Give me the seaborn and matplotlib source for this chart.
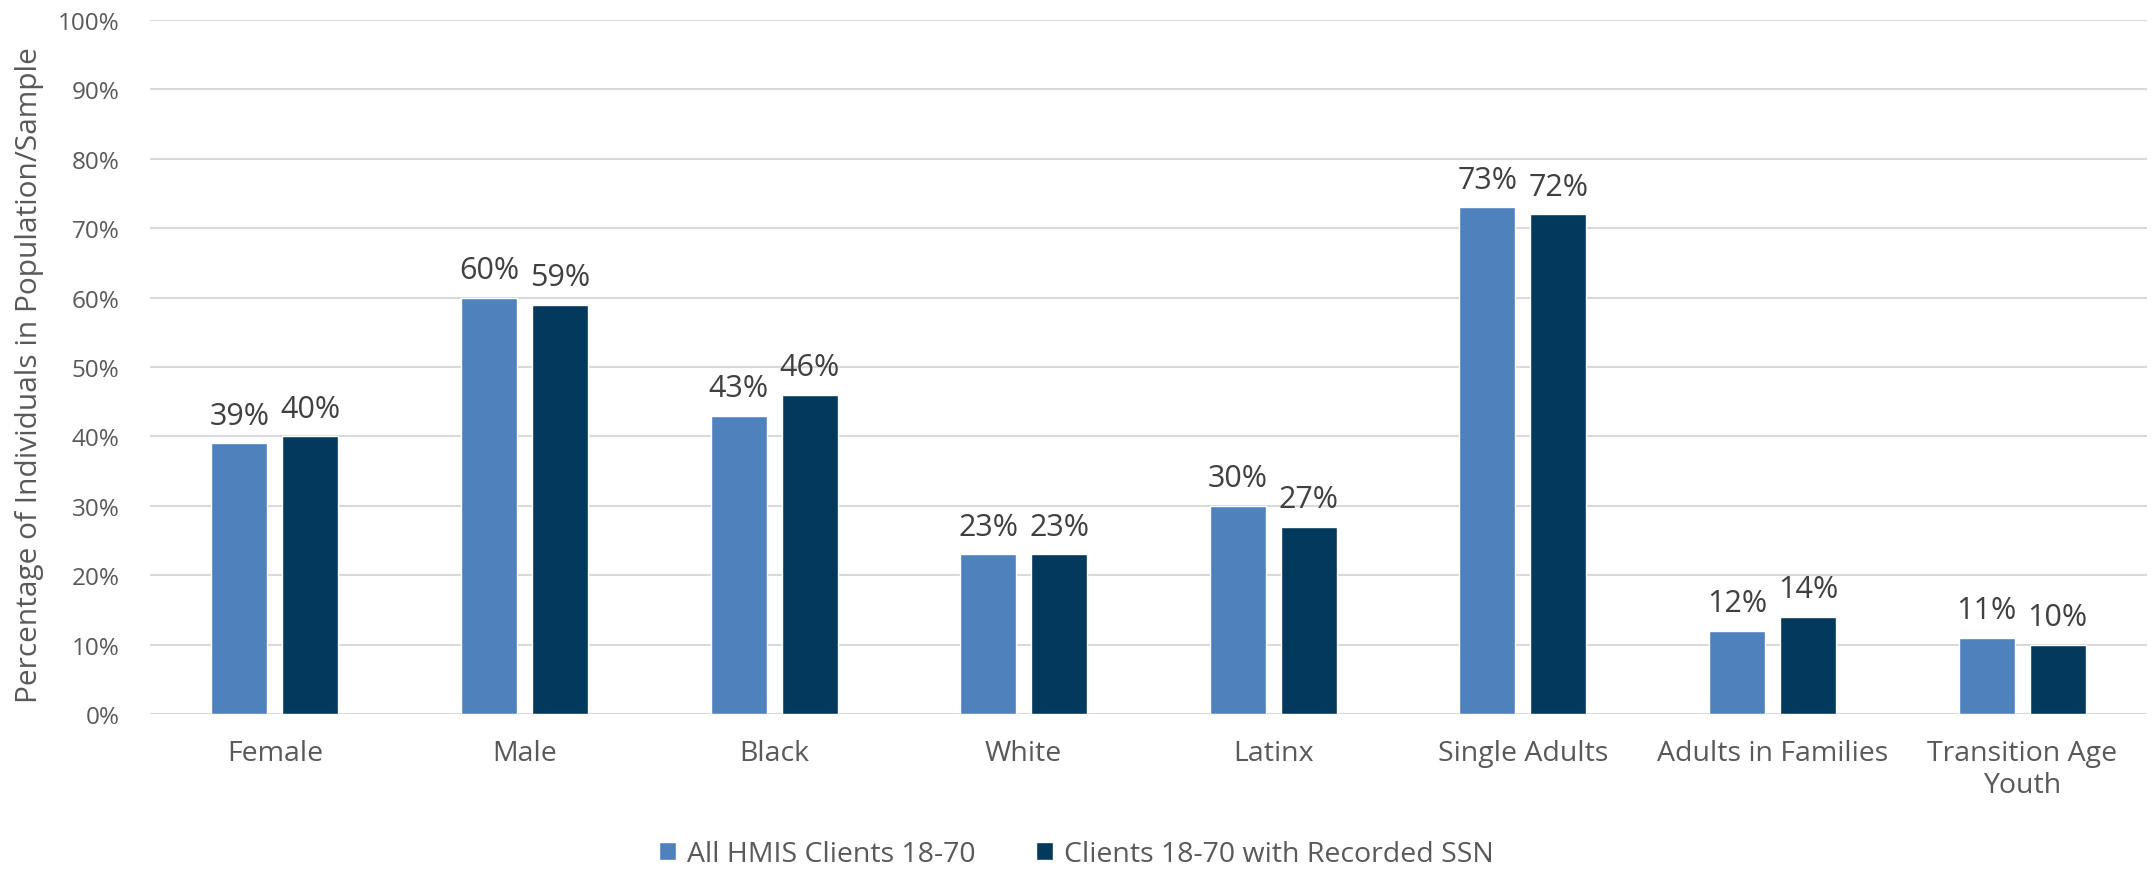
import pandas as pd
import matplotlib.pyplot as plt
import seaborn as sns
from matplotlib.patches import Patch

# values (percent)
categories = ['Female', 'Male', 'Black', 'White', 'Latinx', 'Single Adults',
              'Adults in Families', 'Transition Age\nYouth']
all_hmis = [39, 60, 43, 23, 30, 73, 12, 11]
with_ssn = [40, 59, 46, 23, 27, 72, 14, 10]
series_names = ['All HMIS Clients 18-70', 'Clients 18-70 with Recorded SSN']
colors = ['#4F81BD', '#03395C']
yticks = list(range(0, 101, 10))

df = pd.DataFrame({
    'category': categories * 2,
    'value': all_hmis + with_ssn,
    'series': [series_names[0]] * len(categories) + [series_names[1]] * len(categories),
})

sns.set_theme(style='white')
plt.rcParams['font.family'] = ['Open Sans', 'DejaVu Sans']

fig = plt.figure(figsize=(21.53, 8.79), dpi=100)
ax = fig.add_axes([150 / 2153, 164 / 879, 1997 / 2153, 694 / 879])

sns.barplot(data=df, x='category', y='value', hue='series', palette=colors,
            width=0.568, gap=0.21, saturation=1, ax=ax, legend=False)

for cont in ax.containers:
    ax.bar_label(cont, fmt='%d%%', padding=9, fontsize=22, color='#404040')

ax.set_ylim(0, 100)
ax.set_xlim(-0.5, len(categories) - 0.5)
ax.set_yticks(yticks)
ax.set_yticklabels([f'{t}%' for t in yticks])
ax.yaxis.grid(True, color='#D9D9D9', linewidth=1.5)
ax.set_axisbelow(True)
for s in ax.spines.values():
    s.set_visible(False)
ax.tick_params(axis='y', length=0, pad=22, labelsize=17.5, labelcolor='#595959')
ax.tick_params(axis='x', length=0, pad=18, labelsize=20.5, labelcolor='#595959')
ax.set_xlabel('')
ax.set_ylabel('Percentage of Individuals in Population/Sample', fontsize=21.5,
              color='#595959')
ax.yaxis.set_label_coords(-106 / 1997, 0.49)

handles = [Patch(facecolor=c) for c in colors]
fig.legend(handles, series_names, loc='center', bbox_to_anchor=(0.5, 24 / 879),
           ncol=2, frameon=False, fontsize=20.5, labelcolor='#595959',
           handlelength=0.6, handleheight=0.6, handletextpad=0.4,
           columnspacing=2.1)

fig.savefig('out.png', dpi=100)
